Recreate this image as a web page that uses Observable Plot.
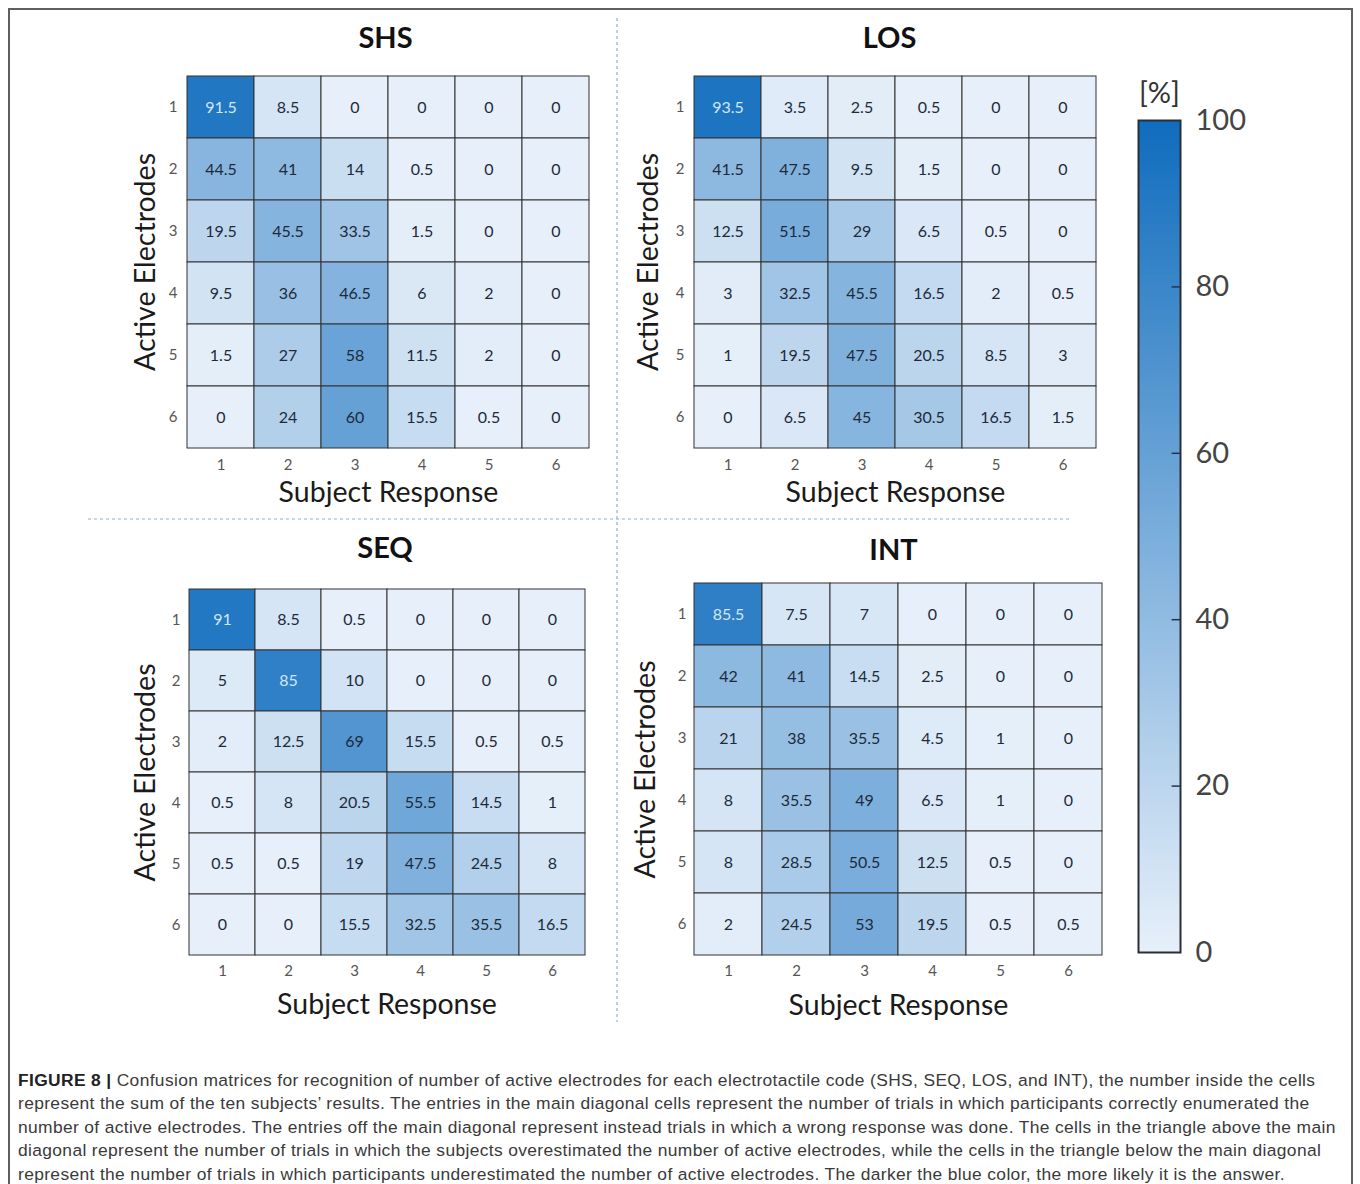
<!DOCTYPE html>
<html>
<head>
<meta charset="utf-8">
<script src="https://cdn.jsdelivr.net/npm/d3@7"></script>
<script src="https://cdn.jsdelivr.net/npm/@observablehq/plot@0.6"></script>
<style>
  html, body { margin: 0; padding: 0; background: #fff; }
  #root { position: relative; width: 1360px; height: 1184px; overflow: hidden; font-family: Lato, "Open Sans", sans-serif; }
  #frame { position: absolute; left: 8px; top: 8px; width: 1345px; height: 1200px; border: 2px solid #5f5f5f; box-sizing: border-box; }
  .abs { position: absolute; }
  #caption { position: absolute; left: 18px; top: 1069px; font-family: "Liberation Sans", Arial, sans-serif; font-size: 17.4px; letter-spacing: 0.36px; line-height: 23.4px; color: #3a3a3a; white-space: nowrap; }
  #caption b { color: #222; }
</style>
</head>
<body>
<div id="root">
  <div id="frame"></div>
  <svg class="abs" style="left:0;top:0" width="1360" height="1184">
    <line x1="617" y1="18" x2="617" y2="1022" stroke="#8fb2cc" stroke-width="1.2" stroke-dasharray="3,3"/>
    <line x1="88" y1="519" x2="1072" y2="519" stroke="#8fb2cc" stroke-width="1.2" stroke-dasharray="3,3"/>
  </svg>
  <div id="caption"></div>
</div>
<script>
// ---------- data ----------
const responses = [1, 2, 3, 4, 5, 6];       // Subject Response (columns)
const electrodes = [1, 2, 3, 4, 5, 6];      // Active Electrodes (rows)

const shs = [
  [91.5, 8.5, 0, 0, 0, 0],
  [44.5, 41, 14, 0.5, 0, 0],
  [19.5, 45.5, 33.5, 1.5, 0, 0],
  [9.5, 36, 46.5, 6, 2, 0],
  [1.5, 27, 58, 11.5, 2, 0],
  [0, 24, 60, 15.5, 0.5, 0]
];
const los = [
  [93.5, 3.5, 2.5, 0.5, 0, 0],
  [41.5, 47.5, 9.5, 1.5, 0, 0],
  [12.5, 51.5, 29, 6.5, 0.5, 0],
  [3, 32.5, 45.5, 16.5, 2, 0.5],
  [1, 19.5, 47.5, 20.5, 8.5, 3],
  [0, 6.5, 45, 30.5, 16.5, 1.5]
];
const seq = [
  [91, 8.5, 0.5, 0, 0, 0],
  [5, 85, 10, 0, 0, 0],
  [2, 12.5, 69, 15.5, 0.5, 0.5],
  [0.5, 8, 20.5, 55.5, 14.5, 1],
  [0.5, 0.5, 19, 47.5, 24.5, 8],
  [0, 0, 15.5, 32.5, 35.5, 16.5]
];
const intc = [
  [85.5, 7.5, 7, 0, 0, 0],
  [42, 41, 14.5, 2.5, 0, 0],
  [21, 38, 35.5, 4.5, 1, 0],
  [8, 35.5, 49, 6.5, 1, 0],
  [8, 28.5, 50.5, 12.5, 0.5, 0],
  [2, 24.5, 53, 19.5, 0.5, 0.5]
];
const colorbarTicks = [0, 20, 40, 60, 80, 100];

const captionLines = [
  "<b>FIGURE 8 |</b> Confusion matrices for recognition of number of active electrodes for each electrotactile code (SHS, SEQ, LOS, and INT), the number inside the cells",
  "represent the sum of the ten subjects\u2019 results. The entries in the main diagonal cells represent the number of trials in which participants correctly enumerated the",
  "number of active electrodes. The entries off the main diagonal represent instead trials in which a wrong response was done. The cells in the triangle above the main",
  "diagonal represent the number of trials in which the subjects overestimated the number of active electrodes, while the cells in the triangle below the main diagonal",
  "represent the number of trials in which participants underestimated the number of active electrodes. The darker the blue color, the more likely it is the answer."
];

// ---------- shared styles ----------
const colorScale = { type: "linear", domain: [0, 100], range: ["#e7f0fa", "#0f6cbd"] };
const FONT = "Lato, 'Open Sans', sans-serif";
const root = document.getElementById("root");

function place(node, left, top) {
  node.style.position = "absolute";
  node.style.left = left + "px";
  node.style.top = top + "px";
  root.appendChild(node);
}

function panel(p) {
  const mL = 95, mR = 15, mT = p.gy0 - p.titleY + 30, mB = 75;
  const data = p.rows.flatMap((r, i) => r.map((v, j) => ({ active: electrodes[i], response: responses[j], v })));
  const svg = Plot.plot({
    width: p.gx1 - p.gx0 + mL + mR,
    height: p.gy1 - p.gy0 + mT + mB,
    marginLeft: mL, marginRight: mR, marginTop: mT, marginBottom: mB,
    style: { fontFamily: FONT, background: "transparent", overflow: "visible" },
    x: { type: "band", domain: responses, padding: 0, label: null },
    y: { type: "band", domain: electrodes, padding: 0, label: null },
    color: colorScale,
    marks: [
      Plot.cell(data, { x: "response", y: "active", fill: "v", stroke: "#333", strokeWidth: 1 }),
      Plot.text(data.filter(d => d.v <= 80), { x: "response", y: "active", text: d => String(d.v), fill: "#1d2a3a", fontSize: 16 }),
      Plot.text(data.filter(d => d.v > 80), { x: "response", y: "active", text: d => String(d.v), fill: "#d3e6f6", fontSize: 16 }),
      Plot.axisX({ tickSize: 0, tickPadding: p.xPad, fontSize: 15, color: "#555", label: null }),
      Plot.axisY({ tickSize: 0, tickPadding: p.yPad, fontSize: 15, color: "#555", label: null }),
      Plot.text([p.title], { frameAnchor: "top", lineAnchor: "middle", dy: -(p.gy0 - p.titleY), dx: p.titleDx, fontSize: 29, fontWeight: "bold", fill: "#111" }),
      Plot.text(["Subject Response"], { frameAnchor: "bottom", lineAnchor: "middle", dy: p.xLabelDy, fontSize: 28.5, fill: "#1a1a1a" }),
      Plot.text(["Active Electrodes"], { frameAnchor: "left", textAnchor: "middle", lineAnchor: "middle", dx: -p.yLabelDx, rotate: -90, fontSize: 28.5, fill: "#1a1a1a" })
    ]
  });
  place(svg, p.gx0 - mL, p.titleY - 30);
}

panel({ title: "SHS", rows: shs, gx0: 186, gx1: 590, gy0: 75, gy1: 448, titleY: 38, titleDx: -3, xPad: 11, yPad: 9, xLabelDy: 44, yLabelDx: 41 });
panel({ title: "LOS", rows: los, gx0: 692, gx1: 1098, gy0: 75, gy1: 448, titleY: 38, titleDx: -6, xPad: 11, yPad: 8, xLabelDy: 44, yLabelDx: 44 });
panel({ title: "SEQ", rows: seq, gx0: 188, gx1: 585, gy0: 589, gy1: 955, titleY: 548, titleDx: -2, xPad: 10, yPad: 8, xLabelDy: 49, yLabelDx: 43 });
panel({ title: "INT", rows: intc, gx0: 694, gx1: 1102, gy0: 583, gy1: 955, titleY: 550, titleDx: -5, xPad: 10, yPad: 8, xLabelDy: 50, yLabelDx: 49 });

// ---------- colour bar ----------
(function colorbar() {
  const left = 1120, top = 70, barX0 = 1138, barX1 = 1180, barY0 = 120, barY1 = 952;
  const mL = barX0 - left, mT = barY0 - top, W = 230, H = 920;
  const mR = W - mL - (barX1 - barX0), mB = H - mT - (barY1 - barY0);
  const steps = d3.range(0, 100, 0.5);
  const svg = Plot.plot({
    width: W, height: H,
    marginLeft: mL, marginRight: mR, marginTop: mT, marginBottom: mB,
    style: { fontFamily: FONT, background: "transparent", overflow: "visible" },
    x: { domain: [0, 1], axis: null },
    y: { domain: [0, 100], axis: null },
    color: colorScale,
    marks: [
      Plot.rect(steps, { x1: 0, x2: 1, y1: d => d, y2: d => Math.min(100, d + 1), fill: d => d + 0.25, shapeRendering: "crispEdges" }),
      Plot.frame({ stroke: "#2a2f36", strokeWidth: 2 }),
      Plot.ruleY(colorbarTicks.filter(t => t > 0 && t < 100), { y: d => d, x1: 0.8, x2: 1, stroke: "#1f3650", strokeWidth: 1.5 }),
      Plot.text(colorbarTicks, { y: d => d, x: 1, dx: 15, text: d => String(d), textAnchor: "start", fontSize: 29, fill: "#444" }),
      Plot.text(["[%]"], { frameAnchor: "top", lineAnchor: "middle", dy: -27, fontSize: 29, fill: "#333" })
    ]
  });
  place(svg, left, top);
})();

document.getElementById("caption").innerHTML = captionLines.join("<br>");
</script>
</body>
</html>
